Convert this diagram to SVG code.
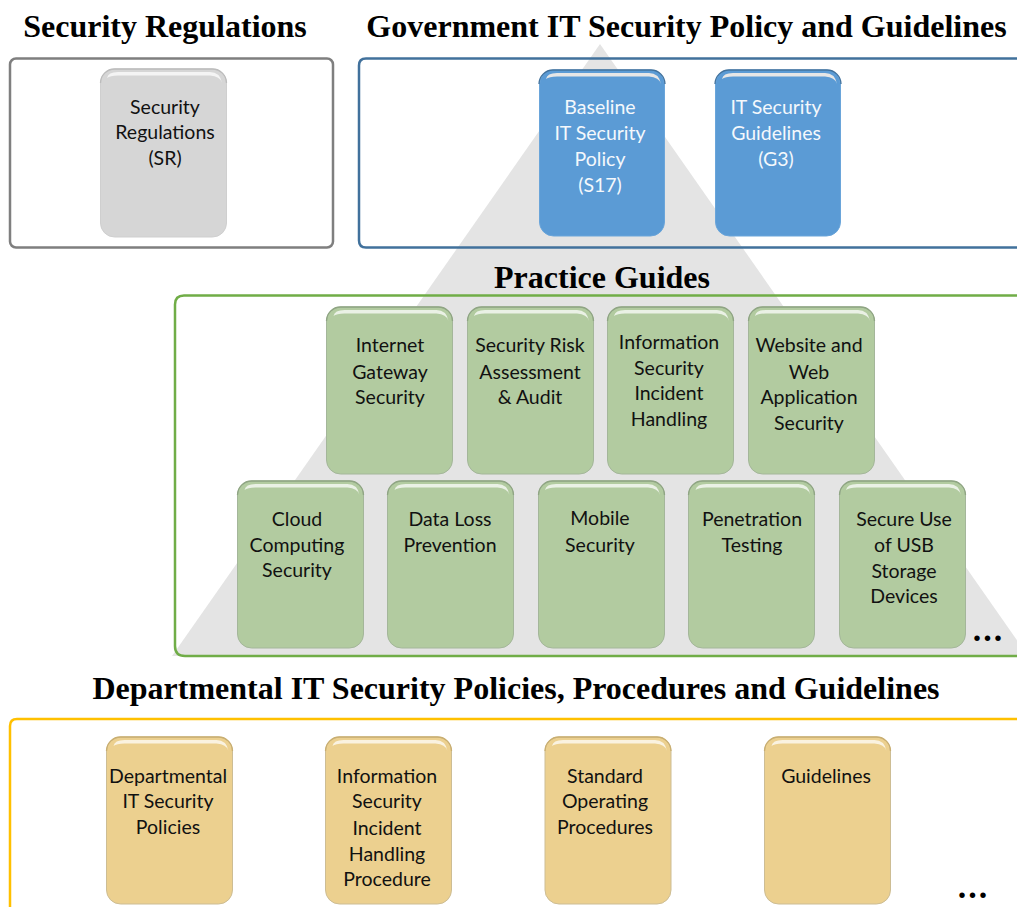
<svg xmlns="http://www.w3.org/2000/svg" width="1017" height="907" viewBox="0 0 1017 907">
<style>
.t{font-family:"Liberation Serif",serif;font-weight:bold;font-size:32px;fill:#000;text-anchor:middle}
.l{font-family:Lato,"Liberation Sans",sans-serif;font-size:19.5px;fill:#111;text-anchor:middle}
.w{fill:#f4f8fc}
.d{font-family:"Liberation Serif",serif;font-weight:bold;font-size:34px;letter-spacing:2px;fill:#000}
.b{stroke-width:1}
.gy{fill:#d6d6d6;stroke:#cfcfcf}
.bl{fill:#5b9bd5;stroke:#6aa5da}
.gr{fill:#b2cba0;stroke:#a4b69a}
.or{fill:#ecd08f;stroke:#cdbd94}
.cgy{stroke:#bcbcbc}
.cbl{stroke:#41719c}
.cgr{stroke:#8fa583}
.cor{stroke:#c9ae70}
.p{fill:#fff;opacity:.72}
.pb{fill:#e6e6e6}
.cap{fill:none;stroke-width:1.300}
</style>
<defs>
<path id="pg" d="M7 10Q8 4 18 4H110Q120 4 122 15Q120 8 110 7.500H18Q10 7.500 7 10Z"/>
<path id="cp" d="M0 14A14 14 0 0 1 14 0H112A14 14 0 0 1 126 14"/>
</defs>
<g id="frames">
<polygon points="600,44 172,656 1028,656" fill="#e4e4e4"/>
<rect x="10" y="58.500" width="323" height="189" rx="6" fill="#fff" stroke="#7f7f7f" stroke-width="2.500"/>
<path d="M1017 58.500H366Q359 58.500 359 65.500V240.500Q359 247.500 366 247.500H1017" fill="none" stroke="#41719c" stroke-width="2.500"/>
<path d="M1017 295.500H184Q175 295.500 175 304.500V646Q175 656 185 656H1017" fill="none" stroke="#70ad47" stroke-width="2.500"/>
<path d="M1017 719H17Q10 719 10 726V907" fill="none" stroke="#ffc000" stroke-width="2.500"/>
</g>
<g id="titles">
<text class="t" x="165" y="37">Security Regulations</text>
<text class="t" x="686.500" y="37">Government IT Security Policy and Guidelines</text>
<text class="t" x="602" y="288">Practice Guides</text>
<text class="t" x="516" y="699">Departmental IT Security Policies, Procedures and Guidelines</text>
</g>
<g id="connectors"></g>
<g id="sr"><rect class="b gy" x="100.500" y="69" width="126" height="168" rx="14"/><use href="#cp" x="100.500" y="69" class="cap cgy"/><use href="#pg" x="100" y="68" class="p"/><text class="l" x="165" y="114">Security</text><text class="l" x="165" y="139">Regulations</text><text class="l" x="165" y="165">(SR)</text></g>
<g id="s17"><rect class="b bl" x="539.500" y="70" width="125" height="166" rx="14"/><use href="#cp" x="539" y="70" class="cap cbl"/><use href="#pg" x="539" y="69" class="pb"/><text class="l w" x="600" y="114">Baseline</text><text class="l w" x="600" y="140">IT Security</text><text class="l w" x="600" y="166">Policy</text><text class="l w" x="600" y="192">(S17)</text></g>
<g id="g3"><rect class="b bl" x="715.500" y="70" width="125" height="166" rx="14"/><use href="#cp" x="715" y="70" class="cap cbl"/><use href="#pg" x="715" y="69" class="pb"/><text class="l w" x="776" y="114">IT Security</text><text class="l w" x="776" y="140">Guidelines</text><text class="l w" x="776" y="166">(G3)</text></g>
<g id="pg1"><rect class="b gr" x="326.500" y="307" width="126" height="167" rx="14"/><use href="#cp" x="326.500" y="307" class="cap cgr"/><use href="#pg" x="326.500" y="306" class="p"/><text class="l" x="390" y="352">Internet</text><text class="l" x="390" y="379">Gateway</text><text class="l" x="390" y="404">Security</text></g>
<g id="pg2"><rect class="b gr" x="467.500" y="307" width="126" height="167" rx="14"/><use href="#cp" x="467.500" y="307" class="cap cgr"/><use href="#pg" x="467" y="306" class="p"/><text class="l" x="530" y="352">Security Risk</text><text class="l" x="530" y="379">Assessment</text><text class="l" x="530" y="404">&amp; Audit</text></g>
<g id="pg3"><rect class="b gr" x="607.500" y="307" width="126" height="167" rx="14"/><use href="#cp" x="607.500" y="307" class="cap cgr"/><use href="#pg" x="607" y="306" class="p"/><text class="l" x="669" y="349">Information</text><text class="l" x="669" y="375">Security</text><text class="l" x="669" y="400">Incident</text><text class="l" x="669" y="426">Handling</text></g>
<g id="pg4"><rect class="b gr" x="748.500" y="307" width="126" height="167" rx="14"/><use href="#cp" x="748.500" y="307" class="cap cgr"/><use href="#pg" x="748" y="306" class="p"/><text class="l" x="809" y="352">Website and</text><text class="l" x="809" y="379">Web</text><text class="l" x="809" y="404">Application</text><text class="l" x="809" y="430">Security</text></g>
<g id="pg5"><rect class="b gr" x="237.500" y="481" width="126" height="167" rx="14"/><use href="#cp" x="237.500" y="481" class="cap cgr"/><use href="#pg" x="237.500" y="480" class="p"/><text class="l" x="297" y="526">Cloud</text><text class="l" x="297" y="552">Computing</text><text class="l" x="297" y="577">Security</text></g>
<g id="pg6"><rect class="b gr" x="387.500" y="481" width="126" height="167" rx="14"/><use href="#cp" x="387.500" y="481" class="cap cgr"/><use href="#pg" x="387.500" y="480" class="p"/><text class="l" x="450" y="526">Data Loss</text><text class="l" x="450" y="552">Prevention</text></g>
<g id="pg7"><rect class="b gr" x="538.500" y="481" width="126" height="167" rx="14"/><use href="#cp" x="538.500" y="481" class="cap cgr"/><use href="#pg" x="538" y="480" class="p"/><text class="l" x="600" y="525">Mobile</text><text class="l" x="600" y="552">Security</text></g>
<g id="pg8"><rect class="b gr" x="688.500" y="481" width="126" height="167" rx="14"/><use href="#cp" x="688.500" y="481" class="cap cgr"/><use href="#pg" x="688.500" y="480" class="p"/><text class="l" x="752" y="526">Penetration</text><text class="l" x="752" y="552">Testing</text></g>
<g id="pg9"><rect class="b gr" x="839.500" y="481" width="126" height="167" rx="14"/><use href="#cp" x="839.500" y="481" class="cap cgr"/><use href="#pg" x="839" y="480" class="p"/><text class="l" x="904" y="526">Secure Use</text><text class="l" x="904" y="552">of USB</text><text class="l" x="904" y="578">Storage</text><text class="l" x="904" y="603">Devices</text></g>
<g id="d1"><rect class="b or" x="106.500" y="737" width="126" height="167" rx="14"/><use href="#cp" x="106.500" y="737" class="cap cor"/><use href="#pg" x="106.500" y="736" class="p"/><text class="l" x="168" y="783">Departmental</text><text class="l" x="168" y="808">IT Security</text><text class="l" x="168" y="834">Policies</text></g>
<g id="d2"><rect class="b or" x="325.500" y="737" width="126" height="167" rx="14"/><use href="#cp" x="325.500" y="737" class="cap cor"/><use href="#pg" x="325.500" y="736" class="p"/><text class="l" x="387" y="783">Information</text><text class="l" x="387" y="808">Security</text><text class="l" x="387" y="835">Incident</text><text class="l" x="387" y="861">Handling</text><text class="l" x="387" y="886">Procedure</text></g>
<g id="d3"><rect class="b or" x="545" y="737" width="126" height="167" rx="14"/><use href="#cp" x="545" y="737" class="cap cor"/><use href="#pg" x="545" y="736" class="p"/><text class="l" x="605" y="783">Standard</text><text class="l" x="605" y="808">Operating</text><text class="l" x="605" y="834">Procedures</text></g>
<g id="d4"><rect class="b or" x="764.500" y="737" width="126" height="167" rx="14"/><use href="#cp" x="764.500" y="737" class="cap cor"/><use href="#pg" x="764.500" y="736" class="p"/><text class="l" x="826" y="783">Guidelines</text></g>
<g id="more">
<text class="d" x="972.750" y="641">...</text>
<text class="d" x="957.750" y="898">...</text>
</g>
</svg>
